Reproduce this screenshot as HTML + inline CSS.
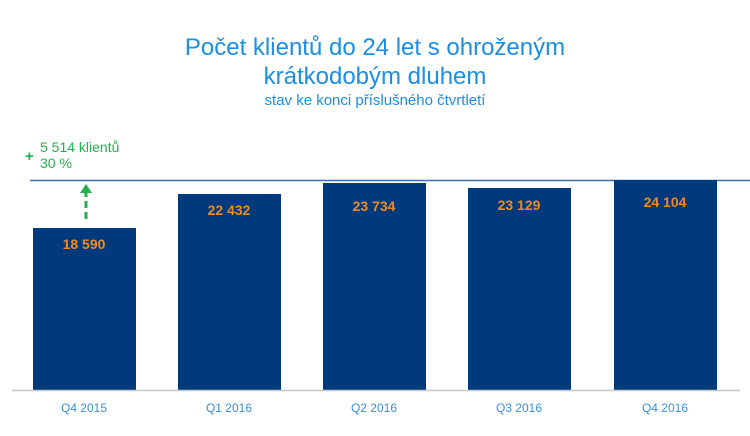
<!DOCTYPE html>
<html><head><meta charset="utf-8"><style>
body{margin:0;background:#fff;}
svg{display:block;font-family:"Liberation Sans","DejaVu Sans",sans-serif;}
</style></head><body>
<svg width="750" height="436" viewBox="0 0 750 436">
<text x="375" y="55" text-anchor="middle" font-size="24" fill="#1a8fe3">Počet klientů do 24 let s ohroženým</text>
<text x="375" y="84" text-anchor="middle" font-size="24" fill="#1a8fe3">krátkodobým dluhem</text>
<text x="375" y="105" text-anchor="middle" font-size="15" fill="#1a8fe3">stav ke konci příslušného čtvrtletí</text>
<line x1="30" y1="180.5" x2="750" y2="180.5" stroke="#3f6fb0" stroke-width="1.5"/>
<g fill="#003a7d">
<rect x="33" y="228" width="103" height="162"/>
<rect x="178" y="194" width="103" height="196"/>
<rect x="323" y="183" width="103" height="207"/>
<rect x="468" y="188" width="103" height="202"/>
<rect x="614" y="180" width="103" height="210"/>
</g>
<line x1="12" y1="390.5" x2="740" y2="390.5" stroke="#c8c8c8" stroke-width="1.5"/>
<g font-size="14" font-weight="bold" fill="#f08a1e" text-anchor="middle">
<text x="84" y="249">18 590</text>
<text x="229" y="215">22 432</text>
<text x="374" y="211">23 734</text>
<text x="519" y="210">23 129</text>
<text x="665" y="207">24 104</text>
</g>
<g font-size="12" fill="#3a8fdc" text-anchor="middle">
<text x="84" y="412">Q4 2015</text>
<text x="229" y="412">Q1 2016</text>
<text x="374" y="412">Q2 2016</text>
<text x="519" y="412">Q3 2016</text>
<text x="665" y="412">Q4 2016</text>
</g>
<g fill="#22b14c">
<text x="25" y="161" font-size="15" font-weight="bold">+</text>
<text x="40" y="152" font-size="14">5 514 klientů</text>
<text x="40" y="168" font-size="14">30 %</text>
<line x1="86" y1="219" x2="86" y2="193" stroke="#22b14c" stroke-width="3" stroke-dasharray="7,4"/>
<polygon points="86,184 80,193 92,193"/>
</g>
</svg>
</body></html>
